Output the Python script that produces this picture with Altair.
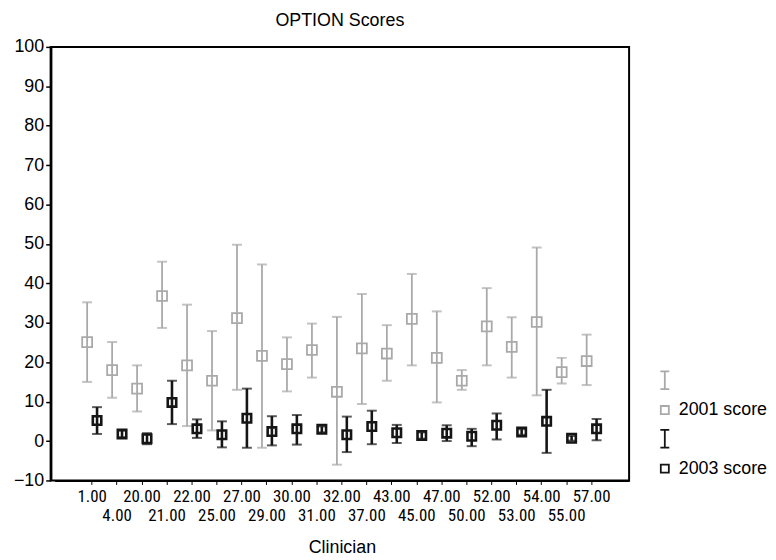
import json
import altair as alt
import pandas as pd

clinicians = ["1.00", "4.00", "20.00", "21.00", "22.00", "25.00", "27.00", "29.00", "30.00", "31.00",
              "32.00", "37.00", "43.00", "45.00", "47.00", "50.00", "52.00", "53.00", "54.00", "55.00", "57.00"]

s2001_mean = [25.1, 18.0, 13.3, 36.8, 19.2, 15.3, 31.2, 21.6, 19.5, 23.1, 12.5, 23.5, 22.2, 31.0, 21.1, 15.3, 29.1, 23.9, 30.2, 17.5, 20.3]
s2001_lo = [15.0, 11.0, 7.5, 28.7, 3.8, 2.7, 13.0, -1.7, 12.6, 16.1, -6.0, 9.4, 15.3, 19.2, 9.8, 13.0, 19.2, 16.1, 11.6, 14.6, 14.2]
s2001_hi = [35.2, 25.1, 19.2, 45.5, 34.6, 27.9, 49.8, 44.8, 26.3, 29.8, 31.5, 37.3, 29.4, 42.4, 32.9, 18.0, 38.8, 31.4, 49.1, 21.1, 27.0]

s2003_mean = [5.2, 1.8, 0.6, 9.8, 3.1, 1.6, 5.8, 2.4, 3.1, 3.0, 1.6, 3.7, 2.1, 1.4, 2.0, 1.2, 4.0, 2.3, 5.0, 0.7, 3.1]
s2003_lo = [1.8, 1.0, -0.8, 4.3, 0.8, -1.6, -1.7, -1.1, -0.9, 2.2, -2.8, -0.8, -0.5, 0.6, 0.0, -1.3, 0.4, 1.6, -3.0, 0.1, 0.2]
s2003_hi = [8.6, 2.6, 2.0, 15.3, 5.5, 5.0, 13.3, 6.3, 6.6, 3.7, 6.2, 7.7, 4.1, 2.2, 4.0, 3.1, 7.0, 3.0, 13.0, 1.3, 5.6]

years = ["2001", "2003"]
legend_keys = ["2001 bar", "2001 score", "2003 bar", "2003 score"]
GRAY = "#a9a9a9"
BLACK = "#151515"
legend_colors = [GRAY, GRAY, BLACK, BLACK]
IBEAM = "M-0.5,-1H0.5M0,-1V1M-0.5,1H0.5"
SQUARE = "M-0.45,-0.45H0.45V0.45H-0.45Z"
legend_shapes = [IBEAM, SQUARE, IBEAM, SQUARE]

rows = []
for i, c in enumerate(clinicians):
    rows.append({"clinician": c, "year": "2001", "mean": s2001_mean[i], "lo": s2001_lo[i], "hi": s2001_hi[i]})
    rows.append({"clinician": c, "year": "2003", "mean": s2003_mean[i], "lo": s2003_lo[i], "hi": s2003_hi[i]})
df = pd.DataFrame(rows)

FONT = "Liberation Sans"
NARROW = "Liberation Sans Narrow, Roboto Condensed, Liberation Sans"

label_expr = ("indexof(" + json.dumps(clinicians).replace('"', "'") +
              ", datum.value) % 2 == 1 ? ['', datum.value] : datum.value")

legend = alt.Legend(
    title=None, orient="none", legendX=609, legendY=326,
    symbolSize=324, symbolStrokeWidth=1.8, symbolFillColor="transparent",
    labelFontSize=18, labelFont=FONT, labelColor="black", labelOffset=4,
    rowPadding=7,
    labelExpr="indexof(datum.label, 'bar') >= 0 ? '' : datum.label",
)
color_scale = alt.Scale(domain=legend_keys, range=legend_colors)
shape_scale = alt.Scale(domain=legend_keys, range=legend_shapes)

x_enc = alt.X(
    "clinician:N", sort=clinicians,
    scale=alt.Scale(paddingInner=0, paddingOuter=1, range=[4, 583]),
    axis=alt.Axis(
        title="Clinician", titleFontSize=18, titleFontWeight="normal", titleFont=FONT,
        titleColor="black", titlePadding=16,
        labelExpr=label_expr, labelAngle=0, labelOverlap=False, labelFontSize=17,
        labelFont=NARROW, labelColor="black", labelLineHeight=19, labelPadding=4,
        tickSize=4, tickColor="black", domainColor="black", domainWidth=2, grid=False,
    ),
)
xoff = alt.XOffset("year:N", sort=years, scale=alt.Scale(paddingInner=0, paddingOuter=0.26))
y_scale = alt.Scale(domain=[-10, 100], nice=False, zero=False)
y_axis = alt.Axis(
    title=None, values=list(range(-10, 101, 10)), labelFontSize=18, labelFont=FONT,
    labelColor="black", tickSize=5, tickColor="black", tickWidth=1.5,
    domainColor="black", domainWidth=2.5, grid=False, labelPadding=2,
)
sw = alt.condition("datum.year == '2003'", alt.value(2.6), alt.value(1.8))
cap_color = alt.condition("datum.year == '2003'", alt.value(BLACK), alt.value(GRAY))
pt_size = alt.condition("datum.year == '2003'", alt.value(360), alt.value(494))

base = alt.Chart(df)

rules = base.transform_calculate(key="datum.year + ' bar'").mark_rule().encode(
    x=x_enc, xOffset=xoff,
    y=alt.Y("lo:Q", scale=y_scale, axis=y_axis), y2="hi:Q",
    color=alt.Color("key:N", scale=color_scale, legend=legend),
    strokeWidth=sw,
)
caps_lo = base.mark_tick(size=10, thickness=2).encode(
    x=x_enc, xOffset=xoff,
    y=alt.Y("lo:Q", scale=y_scale, axis=y_axis),
    color=cap_color,
)
caps_hi = base.mark_tick(size=10, thickness=2).encode(
    x=x_enc, xOffset=xoff,
    y=alt.Y("hi:Q", scale=y_scale, axis=y_axis),
    color=cap_color,
)
points = base.transform_calculate(key="datum.year + ' score'").mark_point(filled=False, opacity=1).encode(
    x=x_enc, xOffset=xoff,
    y=alt.Y("mean:Q", scale=y_scale, axis=y_axis),
    color=alt.Color("key:N", scale=color_scale, legend=legend),
    shape=alt.Shape("key:N", scale=shape_scale, legend=legend),
    strokeWidth=sw,
    size=pt_size,
)

chart = alt.layer(rules, caps_lo, caps_hi, points).properties(
    width=583, height=437,
    padding={"left": 5, "top": 2, "right": 0, "bottom": 5},
    title=alt.TitleParams("OPTION Scores", fontSize=18, fontWeight="normal", font=FONT,
                          color="black", offset=8),
).configure(
    font=FONT,
    view=alt.ViewConfig(stroke="black", strokeWidth=2),
)

chart.save("out.html", embed_options={"renderer": "svg", "actions": False})
